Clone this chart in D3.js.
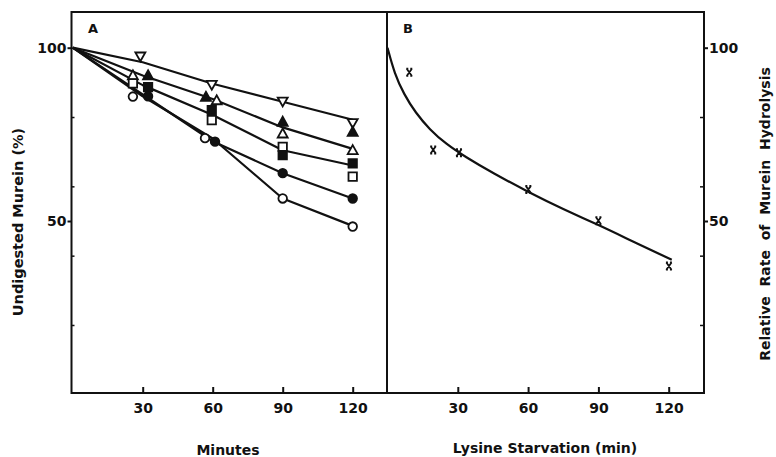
<!DOCTYPE html>
<html>
<head>
<meta charset="utf-8">
<script src="https://cdn.jsdelivr.net/npm/d3@7"></script>
<style>
  body { margin: 0; background: #fff; }
  text { font-family: "DejaVu Sans", "Liberation Sans", sans-serif; font-weight: bold; fill: #111; }
</style>
</head>
<body>
<svg id="chart" width="776" height="457"></svg>
<script>
// ---- Panel A: undigested murein (%) vs minutes ----
const minuteTicks = [30, 60, 90, 120];
const yLabelTicks = [50, 100];
const yMinorTicks = [20, 40, 60, 80];

// Drawn lines (vertices at 0, 30, 60, 90, 120 min)
const lineTimes = [0, 30, 60, 90, 120];
const lineDownTri = [100, 95.8, 89.6, 84.4, 79.2];
const lineTri = [100, 92.0, 85.2, 77.0, 70.8];
const lineSquare = [100, 89.2, 80.6, 70.4, 66.0];
const lineFilledCircle = [100, 86.5, 73.0, 63.8, 56.5];
const lineOpenCircle = [100, 86.0, 73.8, 56.5, 48.6];

// Measured points (minutes, % undigested)
const downTriTimes = [29, 59.6, 90, 120];
const downTriValues = [97.4, 89.2, 84.4, 78.2];
const filledTriTimes = [32.3, 57.1, 90, 120];
const filledTriValues = [92.1, 85.9, 78.7, 75.8];
const openTriTimes = [25.8, 61.7, 90, 120];
const openTriValues = [92.1, 84.9, 75.3, 70.5];
const filledSquareTimes = [32.3, 59.6, 90, 120];
const filledSquareValues = [88.6, 82.0, 69.0, 66.6];
const openSquareTimes = [25.8, 59.6, 90, 120];
const openSquareValues = [89.7, 79.1, 71.4, 62.8];
const filledCircleTimes = [32.3, 61, 90, 120];
const filledCircleValues = [86.0, 72.9, 63.8, 56.5];
const openCircleTimes = [25.8, 56.7, 90, 120];
const openCircleValues = [85.9, 73.9, 56.5, 48.4];

// ---- Panel B: relative rate of murein hydrolysis vs lysine starvation ----
const rateTimes = [9.3, 19.5, 30.5, 60.1, 90, 120.1];
const rateValues = [92.9, 70.5, 69.7, 59.1, 50.1, 37.0];
// control points of the smooth fitted curve
const curveTimes = [0, 3, 7, 12, 18, 25, 33, 45, 60, 75, 90, 105, 121.3];
const curveValues = [100, 92.5, 86.6, 81.2, 76.4, 72.2, 68.6, 63.8, 58.4, 53.4, 48.9, 44.0, 38.8];

const svg = d3.select("#chart");

const y = d3.scaleLinear().domain([0, 100]).range([394.3, 47.7]);
const xA = d3.scaleLinear().domain([0, 120]).range([72.7, 352.7]);
const xB = d3.scaleLinear().domain([0, 120]).range([387.5, 668.7]);

const frameTop = 12, frameBottom = 393;
const leftX = 71.5, midX = 387, rightX = 704;

// frame
const frame = svg.append("g").attr("stroke", "#111").attr("stroke-width", 2).attr("fill", "none");
frame.append("path").attr("d",
  `M${leftX},${frameTop}H${rightX}V${frameBottom}H${leftX}Z M${midX},${frameTop}V${frameBottom}`);

// bottom axes: ticks point inward
function bottomAxis(x) {
  const g = svg.append("g").attr("transform", `translate(0,${frameBottom})`)
    .call(d3.axisBottom(x).tickValues(minuteTicks).tickSizeInner(-6).tickSizeOuter(0).tickPadding(10));
  g.select(".domain").remove();
  g.selectAll(".tick line").attr("stroke", "#111").attr("stroke-width", 2);
  g.selectAll(".tick text").attr("font-size", 14).attr("fill", "#111")
    .attr("font-family", "DejaVu Sans").attr("font-weight", "bold");
}
bottomAxis(xA);
bottomAxis(xB);

// left axis (panel A)
const gl = svg.append("g").attr("transform", `translate(${leftX},0)`)
  .call(d3.axisLeft(y).tickValues(yLabelTicks).tickSize(4).tickPadding(1));
gl.select(".domain").remove();
gl.selectAll(".tick line").attr("stroke", "#111").attr("stroke-width", 2);
gl.selectAll(".tick text").attr("font-size", 14).attr("fill", "#111")
  .attr("font-family", "DejaVu Sans").attr("font-weight", "bold");
const glm = svg.append("g").attr("transform", `translate(${leftX},0)`)
  .call(d3.axisRight(y).tickValues(yMinorTicks).tickSize(3).tickFormat(""));
glm.select(".domain").remove();
glm.selectAll(".tick line").attr("stroke", "#111").attr("stroke-width", 1.5);

// right axis (panel B)
const gr = svg.append("g").attr("transform", `translate(${rightX},0)`)
  .call(d3.axisRight(y).tickValues(yLabelTicks).tickSize(4).tickPadding(1));
gr.select(".domain").remove();
gr.selectAll(".tick line").attr("stroke", "#111").attr("stroke-width", 2);
gr.selectAll(".tick text").attr("font-size", 14).attr("fill", "#111")
  .attr("font-family", "DejaVu Sans").attr("font-weight", "bold");
const grm = svg.append("g").attr("transform", `translate(${rightX},0)`)
  .call(d3.axisLeft(y).tickValues(yMinorTicks).tickSize(4).tickFormat(""));
grm.select(".domain").remove();
grm.selectAll(".tick line").attr("stroke", "#111").attr("stroke-width", 1.5);

// panel letters
svg.append("text").attr("x", 88).attr("y", 33).attr("font-size", 13).text("A");
svg.append("text").attr("x", 403).attr("y", 33).attr("font-size", 13).text("B");

// axis titles
svg.append("text").attr("x", 228).attr("y", 455).attr("text-anchor", "middle")
  .attr("font-size", 14).text("Minutes");
svg.append("text").attr("x", 545).attr("y", 453).attr("text-anchor", "middle")
  .attr("font-size", 14).text("Lysine Starvation (min)");
svg.append("text").attr("transform", "translate(23,222) rotate(-90)").attr("text-anchor", "middle")
  .attr("font-size", 14.5).text("Undigested Murein (%)");
svg.append("text").attr("transform", "translate(770,214) rotate(-90)").attr("text-anchor", "middle")
  .attr("font-size", 14).style("white-space", "pre")
  .text("Relative  Rate  of  Murein  Hydrolysis");

// panel A lines
const lineA = d3.line().x(d => xA(d[0])).y(d => y(d[1]));
[lineDownTri, lineTri, lineSquare, lineFilledCircle, lineOpenCircle].forEach(vals => {
  svg.append("path")
    .datum(lineTimes.map((t, i) => [t, vals[i]]))
    .attr("d", lineA).attr("fill", "none").attr("stroke", "#111").attr("stroke-width", 2.2)
    .attr("stroke-linejoin", "round");
});

// marker shapes
const shapes = {
  downTri: "M0,4.6L5,-4.2L-5,-4.2Z",
  upTri: "M0,-4.8L5,4.2L-5,4.2Z",
  square: "M-4.2,-4.2H4.2V4.2H-4.2Z",
  circle: d3.symbol(d3.symbolCircle, 58)()
};
const seriesA = [
  { times: downTriTimes, values: downTriValues, shape: "downTri", filled: false },
  { times: openTriTimes, values: openTriValues, shape: "upTri", filled: false },
  { times: filledTriTimes, values: filledTriValues, shape: "upTri", filled: true },
  { times: openSquareTimes, values: openSquareValues, shape: "square", filled: false },
  { times: filledSquareTimes, values: filledSquareValues, shape: "square", filled: true },
  { times: openCircleTimes, values: openCircleValues, shape: "circle", filled: false },
  { times: filledCircleTimes, values: filledCircleValues, shape: "circle", filled: true }
];
seriesA.forEach(s => {
  svg.append("g").selectAll("path")
    .data(s.times.map((t, i) => [t, s.values[i]]))
    .join("path")
    .attr("transform", d => `translate(${xA(d[0])},${y(d[1])})`)
    .attr("d", shapes[s.shape])
    .attr("fill", s.filled ? "#111" : "#fff")
    .attr("stroke", "#111").attr("stroke-width", 1.8);
});

// panel B curve and points
const lineB = d3.line().x(d => xB(d[0])).y(d => y(d[1])).curve(d3.curveBasis);
svg.append("path")
  .datum(curveTimes.map((t, i) => [t, curveValues[i]]))
  .attr("d", lineB).attr("fill", "none").attr("stroke", "#111").attr("stroke-width", 2.2);

const crossPath = "M-2.6,-3.6L2.6,3.6M2.6,-3.6L-2.6,3.6M-3,-3.6H-1M1,-3.6H3M-3,3.6H-1M1,3.6H3";
svg.append("g").selectAll("path")
  .data(rateTimes.map((t, i) => [t, rateValues[i]]))
  .join("path")
  .attr("transform", d => `translate(${xB(d[0])},${y(d[1])})`)
  .attr("d", crossPath)
  .attr("fill", "none").attr("stroke", "#111").attr("stroke-width", 1.8);
</script>
</body>
</html>
